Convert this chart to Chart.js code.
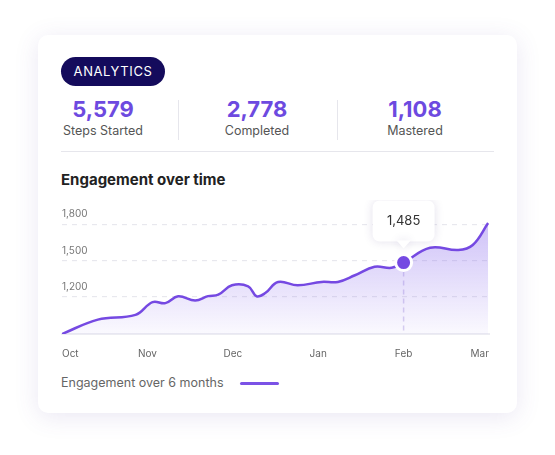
<!DOCTYPE html>
<html>
<head>
<meta charset="utf-8">
<script src="https://cdn.jsdelivr.net/npm/chart.js@4"></script>
<style>
  body { margin:0; width:555px; height:455px; background:#fff; font-family:Inter, sans-serif; position:relative; overflow:hidden; }
  .card { position:absolute; left:38px; top:35px; width:479px; height:378px; background:#fff; border-radius:10px;
          box-shadow:0 4px 24px rgba(90,70,160,0.13); }
  .badge { position:absolute; left:61px; top:57px; width:104px; height:29px; border-radius:15px; background:#140b5c;
           color:#fff; font-size:13px; font-weight:400; letter-spacing:0.6px; text-align:center; line-height:29px; }
  .stat { position:absolute; top:96px; text-align:center; }
  .stat .n { color:#6d4ae0; font-size:22px; font-weight:700; line-height:26px; }
  .stat .l { color:#555; font-size:12.5px; line-height:18px; }
  .vdiv { position:absolute; top:100px; width:1px; height:40px; background:#e6e6ec; }
  .hdiv { position:absolute; left:61px; top:151px; width:433px; height:1px; background:#e6e6ec; }
  .title { position:absolute; left:61px; top:170px; font-size:15px; font-weight:700; color:#222; }
  .legend { position:absolute; left:61px; top:375px; font-size:12.5px; color:#666; }
  .legend span { display:inline-block; width:39px; height:3px; background:#7b52e6; border-radius:2px; vertical-align:middle; margin-left:17px; }
  #wrap { position:absolute; left:20px; top:200px; width:500px; height:165px; }
</style>
</head>
<body>
<div class="card"></div>
<div class="badge">ANALYTICS</div>
<div class="stat" style="left:48px;width:110px"><div class="n">5,579</div><div class="l">Steps Started</div></div>
<div class="vdiv" style="left:178px"></div>
<div class="stat" style="left:202px;width:110px"><div class="n">2,778</div><div class="l">Completed</div></div>
<div class="vdiv" style="left:337px"></div>
<div class="stat" style="left:360px;width:110px"><div class="n">1,108</div><div class="l">Mastered</div></div>
<div class="hdiv"></div>
<div class="title">Engagement over time</div>
<div id="wrap"><canvas id="chart"></canvas></div>
<div class="legend">Engagement over 6 months<span></span></div>
<script>
const months = ['Oct', 'Nov', 'Dec', 'Jan', 'Feb', 'Mar'];
// x in months since Oct
const xs = [0, 0.42, 0.86, 1.06, 1.21, 1.36, 1.56, 1.71, 1.83, 1.99, 2.18, 2.28, 2.38, 2.53, 2.76, 3.04, 3.23, 3.43, 3.66, 3.86, 4.0, 4.31, 4.64, 4.81, 4.99];
const ys = [895, 1014, 1053, 1158, 1150, 1206, 1172, 1208, 1220, 1297, 1289, 1206, 1233, 1325, 1297, 1325, 1325, 1380, 1450, 1442, 1485, 1608, 1589, 1630, 1811];
const yTicks = [1200, 1500, 1800];
const highlightIndex = 20;

const calloutPlugin = {
    id: 'callout',
    beforeDatasetsDraw(chart) {
        const p = chart.getDatasetMeta(0).data[highlightIndex];
        const ctx = chart.ctx;
        ctx.save();
        ctx.strokeStyle = '#d9d2f0';
        ctx.lineWidth = 1.5;
        ctx.setLineDash([5, 4]);
        ctx.beginPath();
        ctx.moveTo(p.x, p.y);
        ctx.lineTo(p.x, chart.chartArea.bottom);
        ctx.stroke();
        ctx.restore();
    },
    afterDatasetsDraw(chart) {
        const p = chart.getDatasetMeta(0).data[highlightIndex];
        const ctx = chart.ctx;
        const w = 62, h = 41, bx = p.x - w / 2, by = p.y - 62;
        ctx.save();
        ctx.shadowColor = 'rgba(60,40,120,0.15)';
        ctx.shadowBlur = 10;
        ctx.fillStyle = '#fff';
        ctx.beginPath();
        ctx.roundRect(bx, by, w, h, 7);
        ctx.fill();
        ctx.beginPath();
        ctx.moveTo(p.x - 7, by + h - 1);
        ctx.lineTo(p.x, by + h + 7);
        ctx.lineTo(p.x + 7, by + h - 1);
        ctx.fill();
        ctx.shadowColor = 'transparent';
        ctx.fillStyle = '#333';
        ctx.font = '13px Inter';
        ctx.textAlign = 'center';
        ctx.textBaseline = 'middle';
        ctx.fillText(ys[highlightIndex].toLocaleString('en-US'), p.x, by + h / 2);
        ctx.restore();
    }
};

const ctx = document.getElementById('chart').getContext('2d');
const grad = ctx.createLinearGradient(0, 20, 0, 135);
grad.addColorStop(0, 'rgba(125,90,235,0.38)');
grad.addColorStop(1, 'rgba(125,90,235,0.03)');

new Chart(ctx, {
    type: 'line',
    data: {
        datasets: [{
            data: xs.map((x, i) => ({ x: x, y: ys[i] })),
            borderColor: '#7549e2',
            borderWidth: 2.5,
            backgroundColor: grad,
            fill: 'start',
            tension: 0.4,
            pointRadius: xs.map((x, i) => i === highlightIndex ? 8 : 0),
            pointBackgroundColor: '#7549e2',
            pointBorderColor: '#fff',
            pointBorderWidth: 3
        }]
    },
    options: {
        responsive: true,
        maintainAspectRatio: false,
        animation: false,
        layout: { padding: { left: 42, right: 31, top: 22, bottom: 0 } },
        plugins: { legend: { display: false }, tooltip: { enabled: false } },
        scales: {
            x: {
                type: 'linear', min: 0, max: 5,
                grid: { display: false },
                border: { color: '#ececf2', width: 2 },
                ticks: {
                    stepSize: 1, align: 'inner', color: '#666', padding: 5.5,
                    font: { size: 10, family: 'Inter' },
                    callback: v => months[v]
                }
            },
            y: {
                min: 895, max: 1820,
                afterBuildTicks: s => { s.ticks = yTicks.map(v => ({ value: v })); },
                grid: { color: '#e8e8ee', lineWidth: 1.2, tickLength: 0 },
                border: { display: false, dash: [5, 5] },
                ticks: {
                    mirror: true, padding: 0, labelOffset: -10, color: '#777',
                    font: { size: 10, family: 'Inter' },
                    callback: v => v.toLocaleString('en-US')
                }
            }
        }
    },
    plugins: [calloutPlugin]
});
</script>
</body>
</html>
